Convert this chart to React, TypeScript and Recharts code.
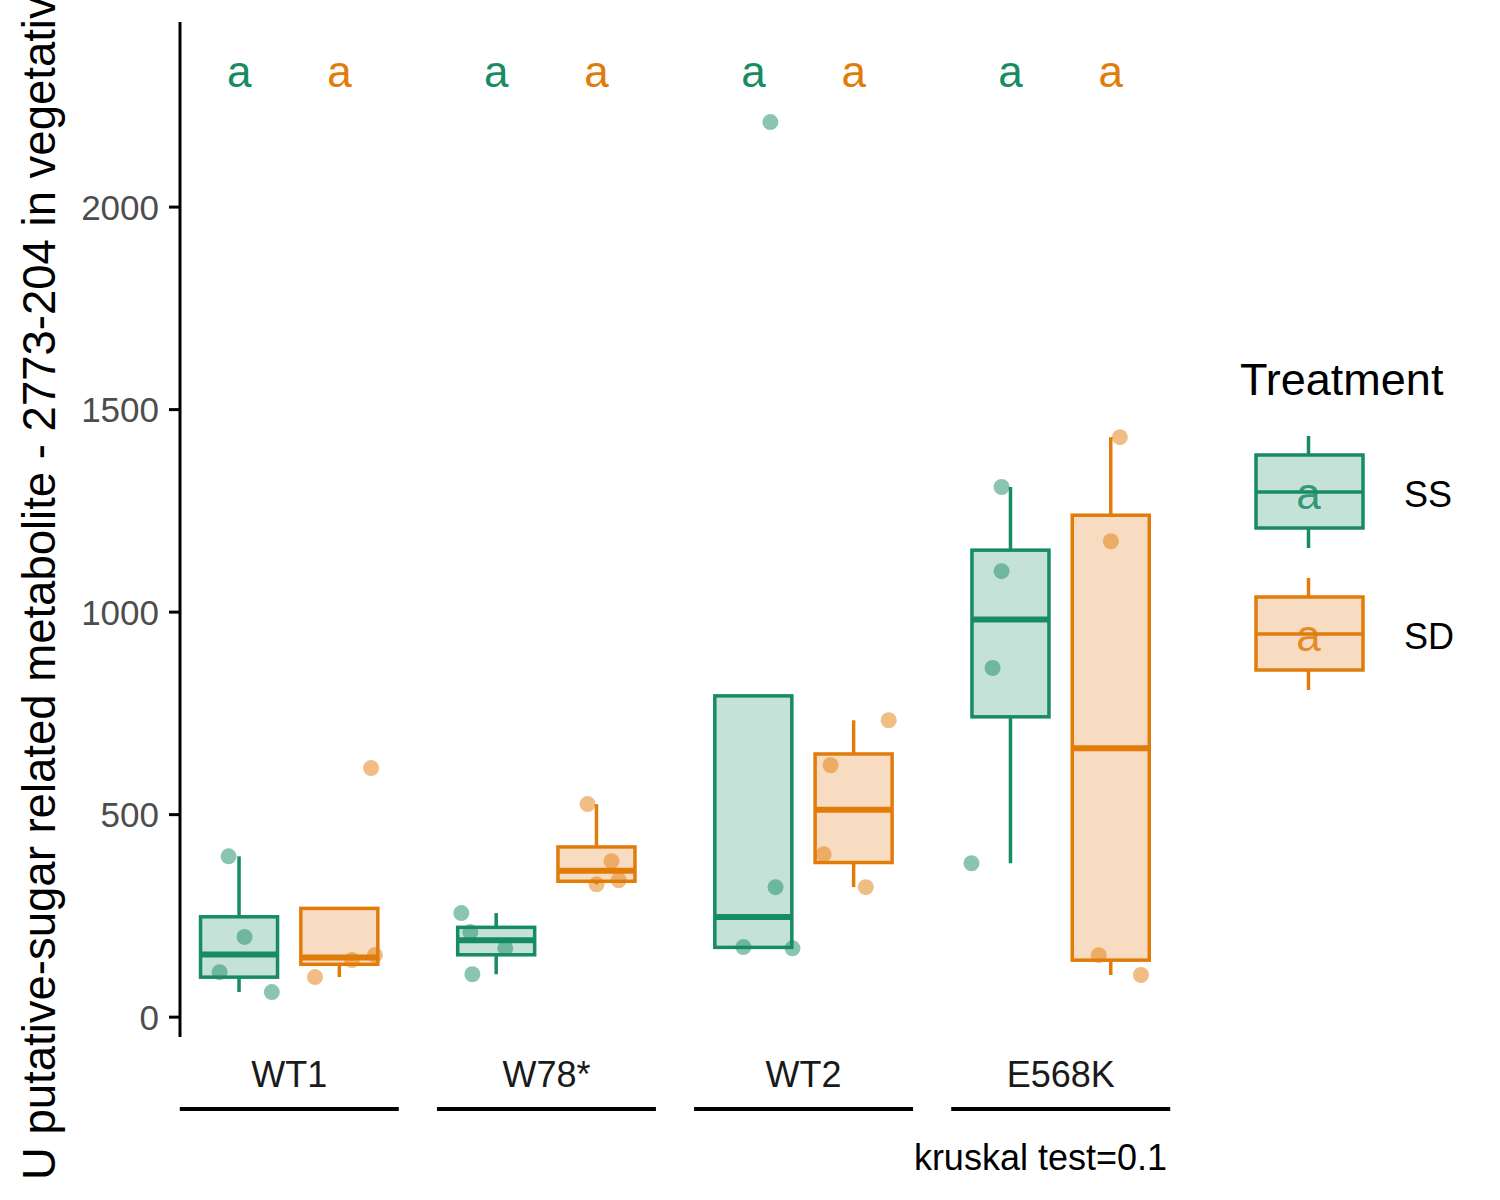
import React from 'react';
import { ComposedChart, Bar, Scatter, XAxis, YAxis, Legend } from 'recharts';

const genotypes = ['WT1', 'W78*', 'WT2', 'E568K'];
const treatments = ['SS', 'SD'];
const treatmentColors = ['#178B63', '#E17C0A'];
const treatmentFills = ['#C5E2D8', '#F7DCC2'];

const ssValues = [
  [397, 198, 111, 62],
  [257, 106, 170, 210],
  [2210, 321, 173, 170],
  [1309, 1101, 862, 380],
];
const sdValues = [
  [615, 99, 141, 153],
  [526, 385, 328, 338],
  [733, 622, 402, 321],
  [1432, 1175, 153, 104],
];
// horizontal jitter of each dot, in category units
const ssJitter = [
  [-0.041, 0.021, -0.076, 0.127],
  [-0.136, -0.093, 0.035, -0.101],
  [0.066, 0.086, -0.039, 0.152],
  [-0.035, -0.035, -0.07, -0.152],
];
const sdJitter = [
  [0.123, -0.095, 0.049, 0.138],
  [-0.035, 0.058, 0, 0.086],
  [0.136, -0.09, -0.117, 0.047],
  [0.035, 0, -0.047, 0.117],
];
const ssLetters = ['a', 'a', 'a', 'a'];
const sdLetters = ['a', 'a', 'a', 'a'];
const letterY = 2330;
const yTicks = [0, 500, 1000, 1500, 2000];
const yLabel = 'U putative-sugar related metabolite - 2773-204 in vegetative tissue';
const kruskalLabel = 'kruskal test=0.1';

const DODGE = 0.195;
const BOX_W = 77;
const FONT = '"Liberation Sans", Arial, Helvetica, sans-serif';

const quantile = (s: number[], p: number) => {
  const h = (s.length - 1) * p;
  const lo = Math.floor(h);
  const next = s[lo + 1] ?? s[lo];
  return s[lo] + (h - lo) * (next - s[lo]);
};

const boxStats = (values: number[]) => {
  const s = [...values].sort((a, b) => a - b);
  const q1 = quantile(s, 0.25);
  const med = quantile(s, 0.5);
  const q3 = quantile(s, 0.75);
  const iqr = q3 - q1;
  const inside = s.filter((v) => v >= q1 - 1.5 * iqr && v <= q3 + 1.5 * iqr);
  return { q1, med, q3, lo: Math.min(...inside), hi: Math.max(...inside) };
};

const valuesByTreatment = [ssValues, sdValues];
const jitterByTreatment = [ssJitter, sdJitter];
const lettersByTreatment = [ssLetters, sdLetters];
const dodge = (gi: number, ti: number) => gi + 1 + (ti === 0 ? -DODGE : DODGE);

const boxRows = genotypes.flatMap((g, gi) =>
  treatments.map((t, ti) => {
    const st = boxStats(valuesByTreatment[ti][gi]);
    return { x: dodge(gi, ti), range: [st.q1, st.q3], ...st, ti, genotype: g, treatment: t };
  })
);

const pointRows = treatments.flatMap((t, ti) =>
  genotypes.flatMap((g, gi) =>
    valuesByTreatment[ti][gi].map((v, vi) => ({
      x: dodge(gi, ti) + jitterByTreatment[ti][gi][vi],
      y: v,
      ti,
    }))
  )
);

const letterRows = treatments.flatMap((t, ti) =>
  genotypes.map((g, gi) => ({ x: dodge(gi, ti), y: letterY, ti, text: lettersByTreatment[ti][gi] }))
);

// box drawn around the centre of the bar that the library placed for the [q1, q3] range
const BoxShape = (props: any) => {
  const { x, y, width, height, payload } = props;
  if (!payload || !isFinite(x) || !isFinite(y)) return null;
  const { q1, med, q3, lo, hi, ti } = payload;
  const color = treatmentColors[ti];
  const k = height / (q3 - q1);
  const py = (v: number) => y + (q3 - v) * k;
  const cx = x + width / 2;
  const left = cx - BOX_W / 2;
  return (
    <g>
      {hi > q3 && <line x1={cx} x2={cx} y1={py(hi)} y2={y} stroke={color} strokeWidth={3.5} />}
      {lo < q1 && <line x1={cx} x2={cx} y1={y + height} y2={py(lo)} stroke={color} strokeWidth={3.5} />}
      <rect x={left} y={y} width={BOX_W} height={height} fill={treatmentFills[ti]} stroke={color} strokeWidth={3.5} />
      <line x1={left} x2={left + BOX_W} y1={py(med)} y2={py(med)} stroke={color} strokeWidth={6} />
    </g>
  );
};

const Dot = (props: any) => {
  const { cx, cy, payload } = props;
  return <circle cx={cx} cy={cy} r={8} fill={treatmentColors[payload.ti]} fillOpacity={0.5} />;
};

const Letter = (props: any) => {
  const { cx, cy, payload } = props;
  return (
    <text x={cx} y={cy} dy="0.3em" textAnchor="middle" fontSize={44} fontFamily={FONT} fill={treatmentColors[payload.ti]}>
      {payload.text}
    </text>
  );
};

const GenotypeTick = (props: any) => {
  const { x, y, payload } = props;
  return (
    <g>
      <text x={x} y={y + 50} textAnchor="middle" fontSize={36} fontFamily={FONT} fill="#1A1A1A">
        {genotypes[payload.value - 1]}
      </text>
      <line x1={x - 109.5} x2={x + 109.5} y1={y + 72} y2={y + 72} stroke="#000" strokeWidth={4} />
    </g>
  );
};

const TreatmentLegend = () => (
  <svg width={280} height={370}>
    <text x={20} y={55} fontSize={45} fontFamily={FONT} fill="#000">
      Treatment
    </text>
    {treatments.map((t, ti) => {
      const top = 115 + ti * 142;
      const color = treatmentColors[ti];
      return (
        <g key={t}>
          <line x1={88.5} x2={88.5} y1={top - 19} y2={top + 93} stroke={color} strokeWidth={3.5} />
          <rect x={36} y={top} width={107} height={73} fill={treatmentFills[ti]} stroke={color} strokeWidth={3.5} />
          <line x1={36} x2={143} y1={top + 37} y2={top + 37} stroke={color} strokeWidth={3.5} />
          <text x={88.5} y={top + 54} textAnchor="middle" fontSize={44} fontFamily={FONT} fill={color} fillOpacity={0.85}>
            a
          </text>
          <text x={184} y={top + 52} fontSize={36} fontFamily={FONT} fill="#000">
            {t}
          </text>
        </g>
      );
    })}
  </svg>
);

export default function App() {
  return (
    <div style={{ position: 'absolute', left: 0, top: 0, width: 1500, height: 1200, background: '#fff' }}>
      <ComposedChart
        width={1500}
        height={1200}
        data={boxRows}
        margin={{ top: 22, right: 330, bottom: 0, left: 0 }}
        style={{ fontFamily: FONT }}
      >
        <XAxis
          type="number"
          dataKey="x"
          domain={[0.575, 4.425]}
          allowDataOverflow
          ticks={[1, 2, 3, 4]}
          interval={0}
          axisLine={false}
          tickLine={false}
          tickSize={0}
          tickMargin={0}
          height={163}
          tick={<GenotypeTick />}
          label={{
            content: (p: any) => {
              const vb = p.viewBox || { x: 180, y: 1037, width: 990 };
              return (
                <text x={vb.x + vb.width - 3} y={vb.y + 133} textAnchor="end" fontSize={36} fontFamily={FONT} fill="#000">
                  {kruskalLabel}
                </text>
              );
            },
          }}
        />
        <YAxis
          type="number"
          domain={[-49, 2457]}
          allowDataOverflow
          ticks={yTicks}
          interval={0}
          width={180}
          axisLine={{ stroke: '#000', strokeWidth: 3 }}
          tickLine={{ stroke: '#000', strokeWidth: 3 }}
          tickSize={11}
          tickMargin={10}
          tick={{ fill: '#4D4D4D', fontSize: 35, fontFamily: FONT }}
          label={{
            content: () => (
              <text
                x={55}
                y={1180}
                transform="rotate(-90, 55, 1180)"
                textAnchor="start"
                fontSize={45.5}
                fontFamily={FONT}
                fill="#000"
              >
                {yLabel}
              </text>
            ),
          }}
        />
        <Bar dataKey="range" barSize={77} shape={<BoxShape />} isAnimationActive={false} />
        <Scatter data={pointRows} dataKey="y" shape={<Dot />} isAnimationActive={false} />
        <Scatter data={letterRows} dataKey="y" shape={<Letter />} isAnimationActive={false} />
        <Legend
          layout="vertical"
          align="center"
          verticalAlign="middle"
          wrapperStyle={{ left: 1220, top: 340, width: 280, height: 370 }}
          content={() => <TreatmentLegend />}
        />
      </ComposedChart>
    </div>
  );
}
